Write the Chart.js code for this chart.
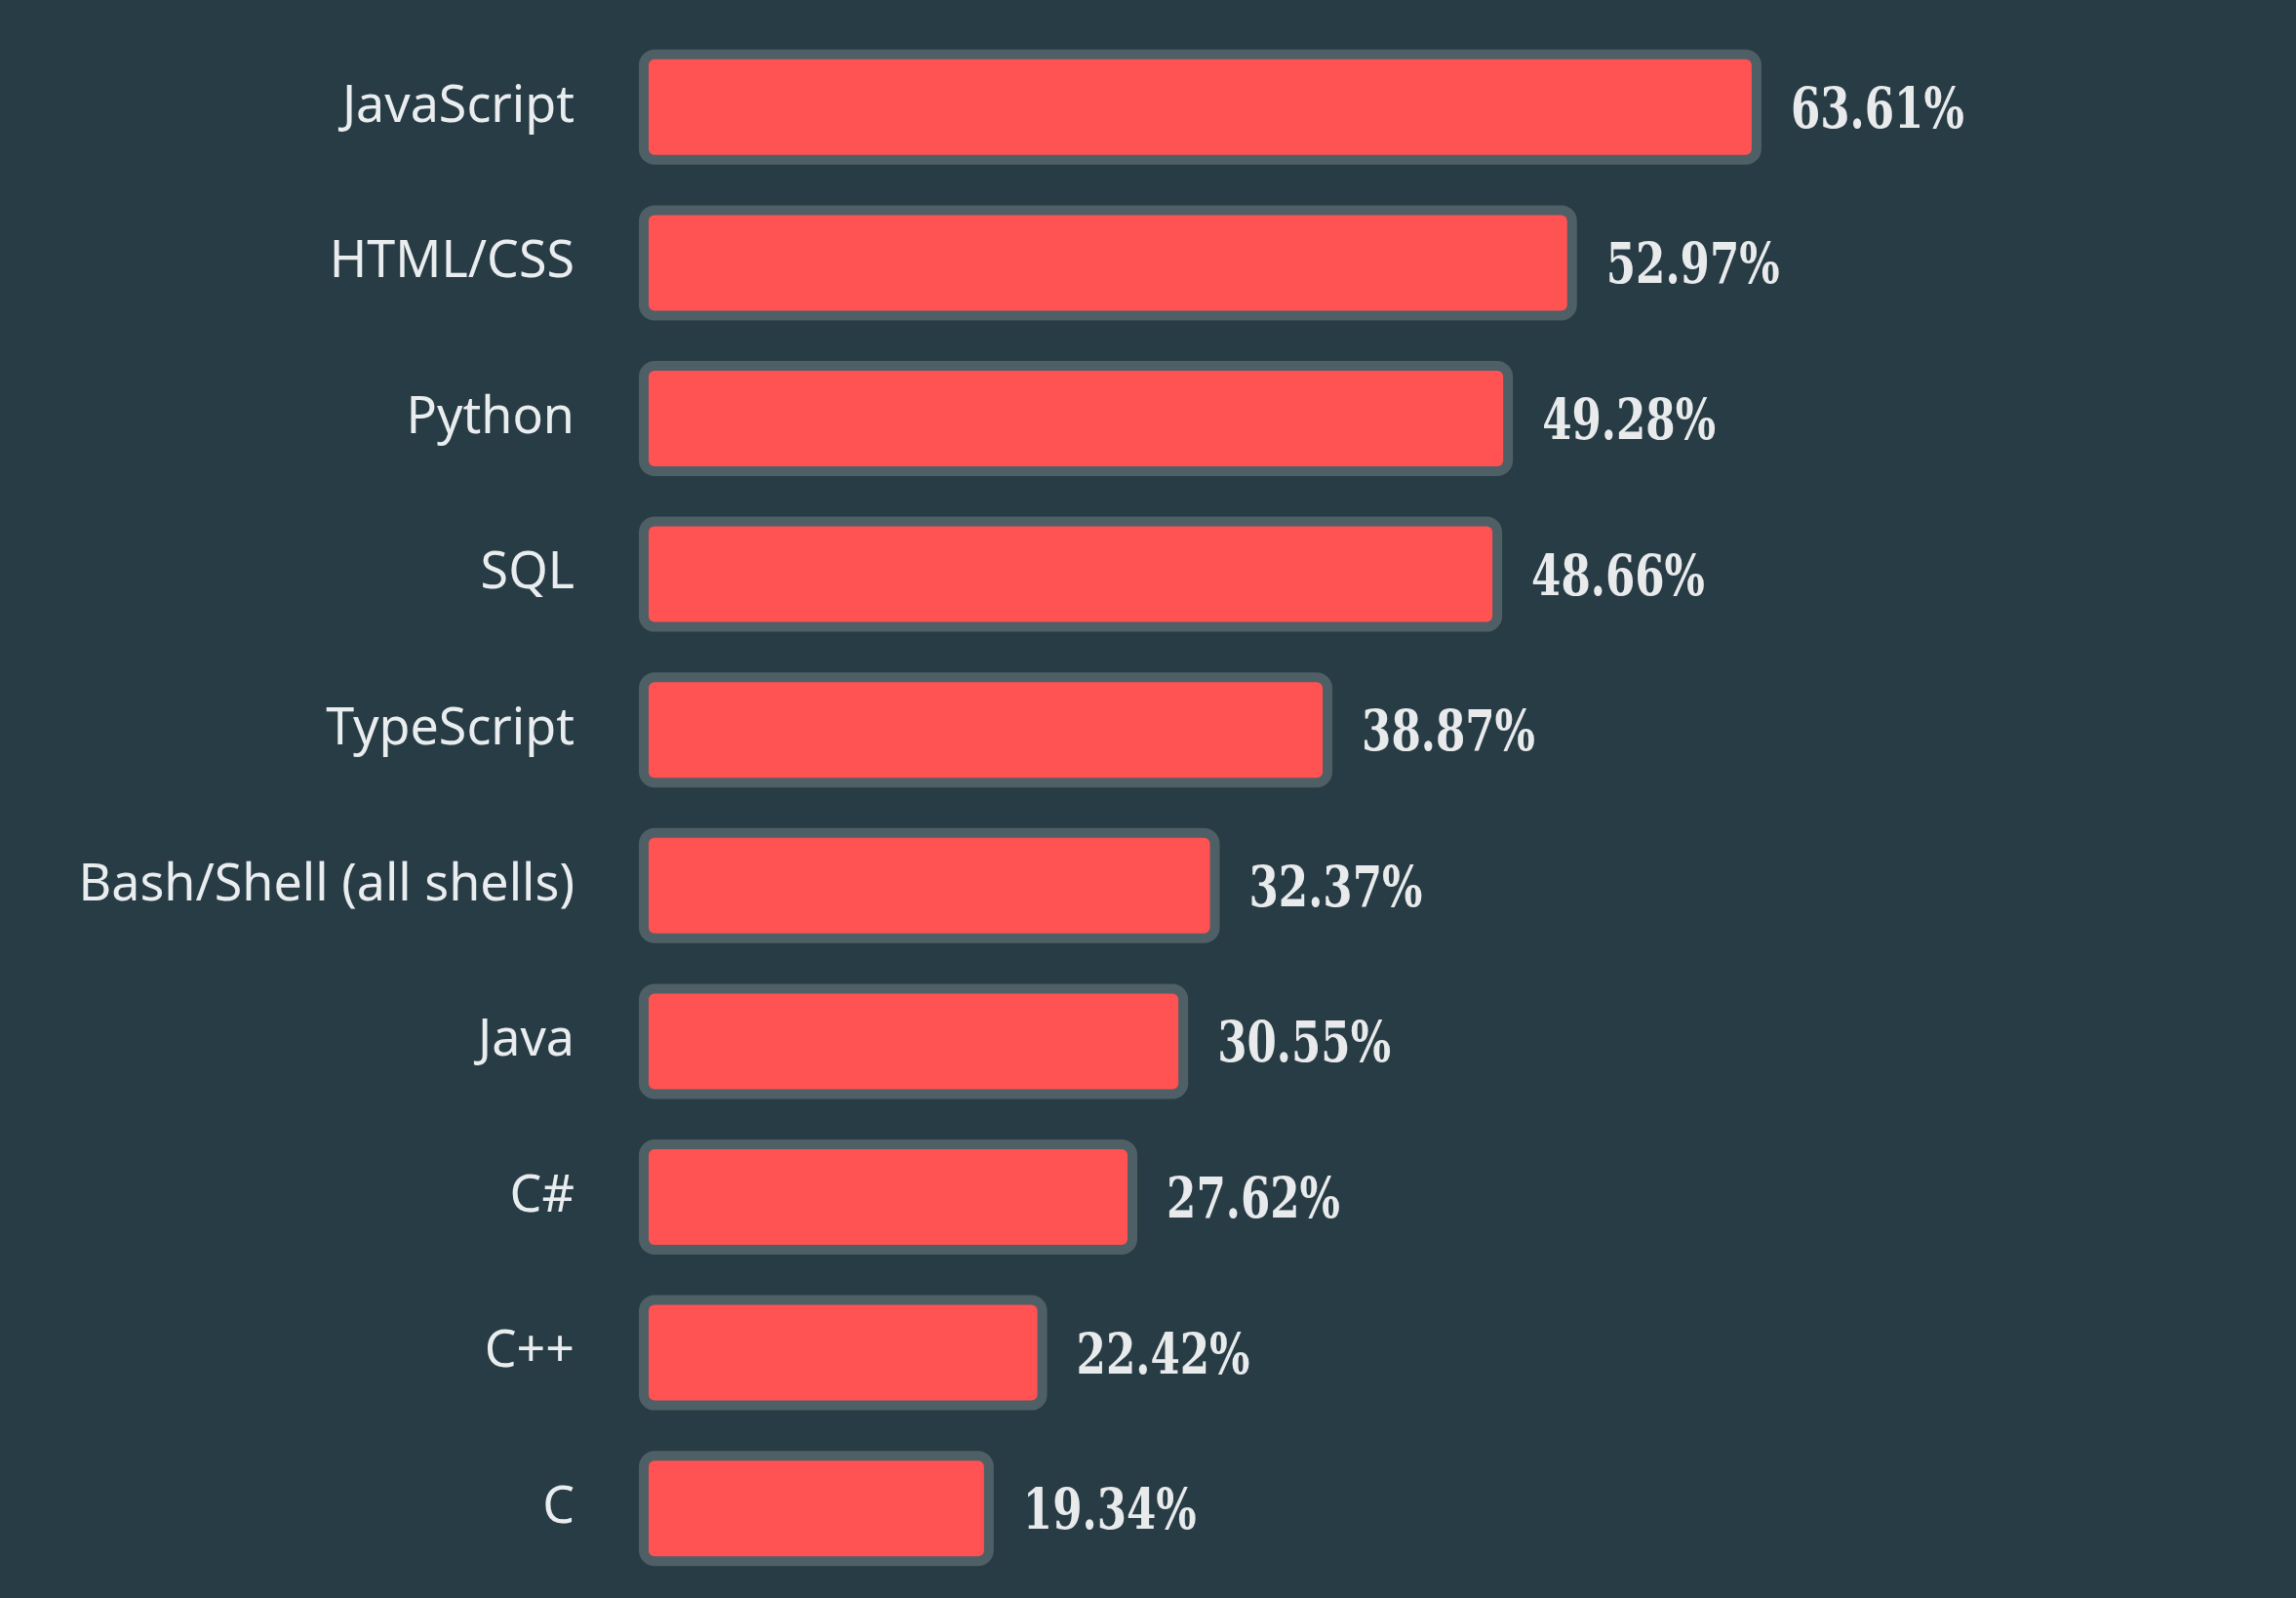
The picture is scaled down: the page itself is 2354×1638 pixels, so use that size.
<!DOCTYPE html>
<html lang="en">
<head>
    <meta charset="UTF-8">
    <title>Most popular languages</title>
    <style>
        html, body { margin: 0; padding: 0; background: #273c44; }
        canvas { display: block; }
    </style>
</head>
<body>
    <canvas id="langChart" width="2354" height="1638"></canvas>

<script src="https://cdn.jsdelivr.net/npm/chart.js"></script>
<script>
    const languages = ['JavaScript', 'HTML/CSS', 'Python', 'SQL', 'TypeScript',
        'Bash/Shell (all shells)', 'Java', 'C#', 'C++', 'C'];
    const shares = [63.61, 52.97, 49.28, 48.66, 38.87, 32.37, 30.55, 27.62, 22.42, 19.34];

    const framePad = 10;

    // grey rounded frame drawn around every bar, behind it
    const barFrame = {
        id: 'barFrame',
        beforeDatasetsDraw(chart) {
            const ctx = chart.ctx;
            const meta = chart.getDatasetMeta(0);
            ctx.save();
            ctx.fillStyle = '#4f5f66';
            meta.data.forEach(function (bar) {
                const x0 = bar.base - framePad;
                const w = bar.x - bar.base + framePad * 2;
                const h = bar.height + framePad * 2;
                ctx.beginPath();
                ctx.roundRect(x0, bar.y - h / 2, w, h, 16);
                ctx.fill();
            });
            ctx.restore();
        }
    };

    // percentage next to each bar, squeezed a bit to look like a condensed slab
    const valueLabels = {
        id: 'valueLabels',
        afterDatasetsDraw(chart) {
            const ctx = chart.ctx;
            const meta = chart.getDatasetMeta(0);
            meta.data.forEach(function (bar, i) {
                ctx.save();
                ctx.fillStyle = '#e8eaec';
                ctx.font = 'bold 57px "DejaVu Serif Condensed", "DejaVu Serif", serif';
                ctx.textAlign = 'left';
                ctx.textBaseline = 'alphabetic';
                ctx.translate(bar.x + framePad + 30, bar.y + 21);
                ctx.scale(0.85, 1);
                ctx.fillText(shares[i].toFixed(2) + '%', 0, 0);
                ctx.restore();
            });
        }
    };

    new Chart(document.getElementById('langChart'), {
        type: 'bar',
        data: {
            labels: languages,
            datasets: [{
                data: shares,
                backgroundColor: '#ff5252',
                borderWidth: 0,
                borderRadius: 6,
                borderSkipped: false,
                barPercentage: 0.614,
                categoryPercentage: 1.0
            }]
        },
        options: {
            indexAxis: 'y',
            responsive: false,
            animation: false,
            layout: { padding: { top: 30, bottom: 12, left: 0, right: 0 } },
            plugins: {
                legend: { display: false },
                tooltip: { enabled: false }
            },
            scales: {
                x: {
                    display: false,
                    min: 0,
                    max: 95
                },
                y: {
                    border: { display: false },
                    grid: {
                        display: true,
                        drawOnChartArea: false,
                        drawTicks: true,
                        tickLength: 76,
                        color: 'rgba(0,0,0,0)'
                    },
                    afterFit: function (scale) {
                        scale.width = 665;
                        scale.paddingTop = 0;
                        scale.paddingBottom = 0;
                    },
                    ticks: {
                        color: '#eaedef',
                        padding: 0,
                        font: { family: '"Noto Sans", sans-serif', size: 52 }
                    }
                }
            }
        },
        plugins: [barFrame, valueLabels]
    });
</script>
</body>
</html>
